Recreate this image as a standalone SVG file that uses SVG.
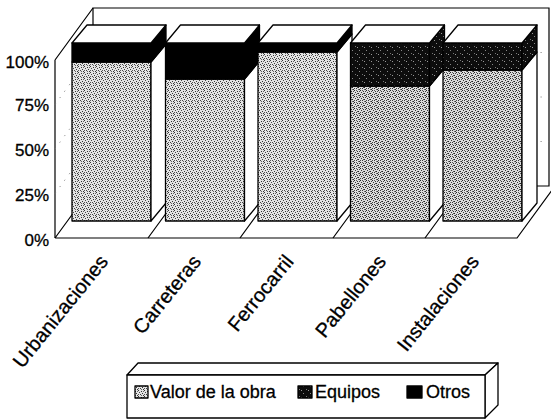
<svg xmlns="http://www.w3.org/2000/svg" width="551" height="419" viewBox="0 0 551 419">
<style>
.ln{fill:none;stroke:#000;stroke-width:1.2}
.grid{fill:none;stroke:#777;stroke-width:1;stroke-dasharray:1 7}
.face{stroke:#000;stroke-width:1.3;stroke-linejoin:round}
.w{fill:#fff}
.k{fill:#000}
.ax{font-family:"Liberation Sans",Arial,sans-serif;font-size:17px;fill:#000;stroke:#000;stroke-width:0.3;text-anchor:end}
.cat{font-family:"Liberation Sans",Arial,sans-serif;font-size:20px;fill:#000;stroke:#000;stroke-width:0.3;text-anchor:end}
.lg{font-family:"Liberation Sans",Arial,sans-serif;font-size:18px;fill:#000;stroke:#000;stroke-width:0.3}
</style>
<defs>
<pattern id="valor" width="6" height="6" patternUnits="userSpaceOnUse">
<rect width="6" height="6" fill="#e4e4e4"/>
<rect x="0" y="0" width="1" height="1" fill="#333"/>
<rect x="3" y="1" width="1" height="1" fill="#333"/>
<rect x="1" y="2" width="1" height="1" fill="#444"/>
<rect x="4" y="3" width="1" height="1" fill="#333"/>
<rect x="2" y="4" width="1" height="1" fill="#444"/>
<rect x="5" y="5" width="1" height="1" fill="#333"/>
<rect x="0" y="4" width="1" height="1" fill="#555"/>
<rect x="5" y="1" width="1" height="1" fill="#666"/>
<rect x="3" y="5" width="1" height="1" fill="#666"/>
</pattern>
<pattern id="valor2" width="6" height="6" patternUnits="userSpaceOnUse">
<rect width="6" height="6" fill="#dcdcdc"/>
<rect x="0" y="0" width="1" height="1" fill="#222"/>
<rect x="3" y="1" width="1" height="1" fill="#333"/>
<rect x="1" y="2" width="1" height="1" fill="#333"/>
<rect x="4" y="3" width="1" height="1" fill="#222"/>
<rect x="2" y="4" width="1" height="1" fill="#333"/>
<rect x="5" y="5" width="1" height="1" fill="#333"/>
<rect x="0" y="4" width="1" height="1" fill="#444"/>
<rect x="5" y="1" width="1" height="1" fill="#444"/>
<rect x="2" y="0" width="1" height="1" fill="#555"/>
<rect x="3" y="3" width="1" height="1" fill="#555"/>
<rect x="4" y="5" width="1" height="1" fill="#666"/>
</pattern>
<pattern id="equipos" width="7" height="7" patternUnits="userSpaceOnUse">
<rect width="7" height="7" fill="#0d0d0d"/>
<rect x="2" y="1" width="1" height="1" fill="#888"/>
<rect x="5" y="4" width="1" height="1" fill="#777"/>
<rect x="0" y="5" width="1" height="1" fill="#999"/>
</pattern>
</defs>

<g id="axes">
<path class="ln" d="M93,8 H549 V186 H93 Z"/>
<path class="ln" d="M55,60 L93,8 M55,60 V238"/>
<path class="ln" d="M55,238 H517 L555,186 M55,238 L93,186"/>
<path class="ln" d="M148,238 L186,186 M240,238 L278,186 M333,238 L371,186 M425,238 L463,186"/>
<path class="grid" d="M55,193.5 L93,141.5 H549 M55,149 L93,97 H549 M55,104.5 L93,52.5 H549"/>
<text class="ax" x="49" y="68">100%</text>
<text class="ax" x="49" y="111">75%</text>
<text class="ax" x="49" y="156">50%</text>
<text class="ax" x="49" y="201">25%</text>
<text class="ax" x="49" y="246">0%</text>
</g>

<g id="bar-urbanizaciones">
<rect class="face" x="72" y="62" width="79" height="159" fill="url(#valor)"/>
<rect class="face k" x="72" y="43" width="79" height="19"/>
<polygon class="face w" points="151,62 166,44 166,203 151,221"/>
<polygon class="face k" points="151,43 166,25 166,44 151,62"/>
<polygon class="face w" points="72,43 87,25 166,25 151,43"/>
</g>

<g id="bar-carreteras">
<rect class="face" x="165.5" y="79" width="79" height="142" fill="url(#valor)"/>
<rect class="face k" x="165.5" y="43" width="79" height="36"/>
<polygon class="face w" points="244.5,79 259.5,61 259.5,203 244.5,221"/>
<polygon class="face k" points="244.5,43 259.5,25 259.5,61 244.5,79"/>
<polygon class="face w" points="165.5,43 180.5,25 259.5,25 244.5,43"/>
</g>

<g id="bar-ferrocarril">
<rect class="face" x="258" y="52" width="79" height="169" fill="url(#valor)"/>
<rect class="face k" x="258" y="43" width="79" height="9"/>
<polygon class="face w" points="337,52 352,34 352,203 337,221"/>
<polygon class="face k" points="337,43 352,25 352,34 337,52"/>
<polygon class="face w" points="258,43 273,25 352,25 337,43"/>
</g>

<g id="bar-pabellones">
<rect class="face" x="350.5" y="86" width="79" height="135" fill="url(#valor2)"/>
<rect class="face" x="350.5" y="43" width="79" height="43" fill="url(#equipos)"/>
<polygon class="face w" points="429.5,86 444.5,68 444.5,203 429.5,221"/>
<polygon class="face" points="429.5,43 444.5,25 444.5,68 429.5,86" fill="url(#equipos)"/>
<polygon class="face w" points="350.5,43 365.5,25 444.5,25 429.5,43"/>
</g>

<g id="bar-instalaciones">
<rect class="face" x="443" y="70" width="79" height="151" fill="url(#valor2)"/>
<rect class="face" x="443" y="43" width="79" height="27" fill="url(#equipos)"/>
<polygon class="face w" points="522,70 537,52 537,203 522,221"/>
<polygon class="face" points="522,43 537,25 537,52 522,70" fill="url(#equipos)"/>
<polygon class="face w" points="443,43 458,25 537,25 522,43"/>
</g>

<g id="categories">
<text class="cat" transform="translate(109,262) rotate(-51)">Urbanizaciones</text>
<text class="cat" transform="translate(202,262) rotate(-51)">Carreteras</text>
<text class="cat" transform="translate(294.5,262) rotate(-51)">Ferrocarril</text>
<text class="cat" transform="translate(387,262) rotate(-51)">Pabellones</text>
<text class="cat" transform="translate(480,262) rotate(-51)">Instalaciones</text>
</g>

<g id="legend">
<polygon class="face w" points="127,375 138,363 498,363 485,375"/>
<polygon class="face w" points="485,375 498,363 498,405 485,418"/>
<rect class="face w" x="127" y="375" width="358" height="43"/>
<rect class="face" x="135" y="386" width="13" height="12" fill="url(#valor)" stroke-width="0.8"/>
<text class="lg" x="150" y="398">Valor de la obra</text>
<rect class="face" x="298" y="386" width="14" height="12" fill="url(#equipos)" stroke-width="0.8"/>
<text class="lg" x="315" y="398">Equipos</text>
<rect class="face k" x="407" y="386" width="15" height="12" stroke-width="0.8"/>
<text class="lg" x="426" y="398">Otros</text>
</g>
</svg>
